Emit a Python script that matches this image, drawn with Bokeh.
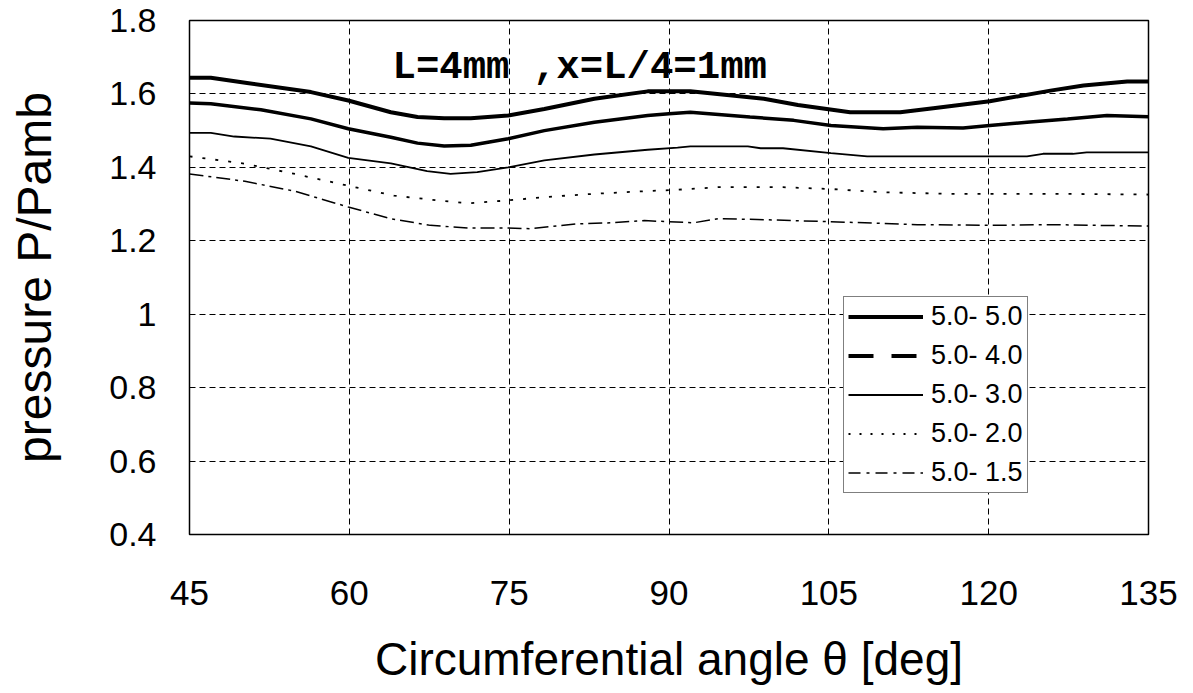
import math
from bokeh.plotting import figure
from bokeh.models import Legend, LegendItem, Label, FixedTicker, ColumnDataSource
from bokeh.embed import file_html
from bokeh.resources import INLINE

# ---- data ----
x_50 = [45, 47, 50.4, 56.4, 59.9, 63.9, 66.4, 68.9, 71.4, 74.9, 78.3, 83.0, 88.0, 92.0,
        98.9, 102.1, 107.0, 111.7, 114.8, 120.1, 125.8, 128.9, 133.0, 135]
y_50 = [1.644, 1.644, 1.630, 1.605, 1.582, 1.550, 1.537, 1.534, 1.534, 1.541, 1.559, 1.587,
        1.607, 1.607, 1.587, 1.570, 1.550, 1.550, 1.561, 1.580, 1.609, 1.623, 1.634, 1.634]

x_40 = [45, 47, 51.7, 56.4, 59.9, 63.9, 66.4, 68.9, 71.4, 74.9, 78.3, 83.0, 88.0, 90.0, 92.0,
        97.6, 101.7, 105.2, 110.1, 113.3, 117.6, 120.1, 123.6, 127.4, 131.1, 135]
y_40 = [1.575, 1.573, 1.557, 1.532, 1.505, 1.482, 1.466, 1.458, 1.460, 1.478, 1.500, 1.523,
        1.541, 1.546, 1.550, 1.537, 1.528, 1.514, 1.505, 1.509, 1.507, 1.514, 1.523, 1.532,
        1.541, 1.538]

x_30 = [45, 47, 49.2, 52.6, 56.4, 59.9, 63.9, 67.3, 69.5, 72.0, 74.9, 78.3, 83.0, 88.0, 90.8,
        92.0, 97.4, 98.6, 100.7, 105.2, 108.6, 123.6, 125.1, 127.9, 129.2, 135]
y_30 = [1.494, 1.494, 1.484, 1.478, 1.457, 1.426, 1.411, 1.390, 1.382, 1.387, 1.400, 1.419,
        1.435, 1.448, 1.454, 1.457, 1.457, 1.452, 1.452, 1.439, 1.430, 1.430, 1.437, 1.437,
        1.441, 1.441]

x_20 = [45, 50.2, 54.9, 57.7, 59.9, 64.2, 68.3, 71.1, 74.9, 78.3, 83.0, 87.7, 90.8, 94.6,
        100.7, 105.2, 110.1, 116.4, 125.8, 135]
y_20 = [1.430, 1.410, 1.382, 1.364, 1.350, 1.323, 1.310, 1.302, 1.310, 1.319, 1.328, 1.335,
        1.339, 1.346, 1.346, 1.341, 1.332, 1.328, 1.328, 1.326]

x_15 = [45, 50.2, 54.9, 59.9, 63.9, 67.6, 71.1, 74.9, 77.0, 81.4, 84.5, 87.7, 89.2, 92.3,
        94.6, 98.3, 105.2, 113.3, 120.1, 125.8, 135]
y_15 = [1.382, 1.362, 1.335, 1.292, 1.260, 1.242, 1.235, 1.235, 1.233, 1.246, 1.249, 1.255,
        1.253, 1.249, 1.260, 1.258, 1.252, 1.244, 1.242, 1.244, 1.240]

series_labels = ["5.0- 5.0", "5.0- 4.0", "5.0- 3.0", "5.0- 2.0", "5.0- 1.5"]
x_ticks = [45, 60, 75, 90, 105, 120, 135]
y_ticks = [0.4, 0.6, 0.8, 1.0, 1.2, 1.4, 1.6, 1.8]
y_tick_labels = ["0.4", "0.6", "0.8", "1", "1.2", "1.4", "1.6", "1.8"]
x_title = "Circumferential angle θ [deg]"
y_title = "pressure P/Pamb"
note = "L=4mm ,x=L/4=1mm"

TICK_FONT = "Liberation Sans"

p = figure(width=1190, height=690, x_range=(45, 135), y_range=(0.4, 1.8),
           output_backend="svg", toolbar_location=None,
           min_border_left=189, min_border_top=20, min_border_right=42,
           min_border_bottom=156)
p.background_fill_color = "white"
p.border_fill_color = "white"
p.outline_line_color = "black"
p.outline_line_width = 1.5
p.outline_line_alpha = 1

p.xaxis.ticker = FixedTicker(ticks=x_ticks)
p.yaxis.ticker = FixedTicker(ticks=y_ticks)
p.yaxis.major_label_overrides = {t: l for t, l in zip(y_ticks, y_tick_labels)}

for ax in (p.xaxis[0], p.yaxis[0]):
    ax.axis_line_color = None
    ax.major_tick_line_color = None
    ax.minor_tick_line_color = None
    ax.major_tick_out = 0
    ax.major_tick_in = 0
    ax.major_label_text_font = TICK_FONT
    ax.major_label_text_color = "black"
    ax.axis_label_text_font_style = "normal"
    ax.axis_label_text_color = "black"

p.xaxis.major_label_text_font_size = "35px"
p.yaxis.major_label_text_font_size = "34px"
p.xaxis.major_label_standoff = 46
p.yaxis.major_label_standoff = 33
p.xaxis.axis_label = x_title
p.xaxis.axis_label_text_font = "Liberation Sans"
p.xaxis.axis_label_text_font_size = "46px"
p.xaxis.axis_label_standoff = 25
p.yaxis.axis_label = y_title
p.yaxis.axis_label_text_font = "Liberation Sans"
p.yaxis.axis_label_text_font_size = "48px"
p.yaxis.axis_label_standoff = 45

for g in (p.xgrid[0], p.ygrid[0]):
    g.grid_line_color = "black"
    g.grid_line_dash = "6 4"
    g.grid_line_width = 1
    g.grid_line_alpha = 1

# plotted lines
r50 = p.line(x_50, y_50, line_color="black", line_width=4)
r40 = p.line(x_40, y_40, line_color="black", line_width=3.5)
r30 = p.line(x_30, y_30, line_color="black", line_width=1.8)
r20 = p.line(x_20, y_20, line_color="black", line_width=1.8, line_dash="3 10")
r15 = p.line(x_15, y_15, line_color="black", line_width=1.5, line_dash="14 5 3 5")

# legend proxies (Excel-style patterns); a single NaN point draws nothing on the plot
def proxy(**kw):
    src = ColumnDataSource(dict(x=[math.nan], y=[math.nan]))
    return p.line("x", "y", source=src, line_color="black", **kw)

l50 = proxy(line_width=4)
l40 = proxy(line_width=4, line_dash="25 18")
l30 = proxy(line_width=1.8)
l20 = proxy(line_width=1.8, line_dash="2 9")
l15 = proxy(line_width=1.5, line_dash="12 6 3 6")

legend = Legend(items=[LegendItem(label=lab, renderers=[r])
                       for lab, r in zip(series_labels, [l50, l40, l30, l20, l15])],
                location=(654, 41))
legend.label_text_font = "Liberation Sans"
legend.label_text_font_size = "27px"
legend.label_text_color = "black"
legend.glyph_width = 75
legend.glyph_height = 31
legend.label_height = 31
legend.label_width = 90
legend.label_standoff = 8
legend.spacing = 8
legend.padding = 4
legend.margin = 0
legend.border_line_color = "black"
legend.border_line_width = 1.5
legend.background_fill_color = "white"
legend.background_fill_alpha = 1
p.add_layout(legend)

p.add_layout(Label(x=203, y=467, x_units="screen", y_units="screen", text=note,
                   text_font="Liberation Mono", text_font_style="bold",
                   text_font_size="39px", text_color="black",
                   text_baseline="alphabetic"))

open("out.html", "w").write(file_html(p, INLINE))
